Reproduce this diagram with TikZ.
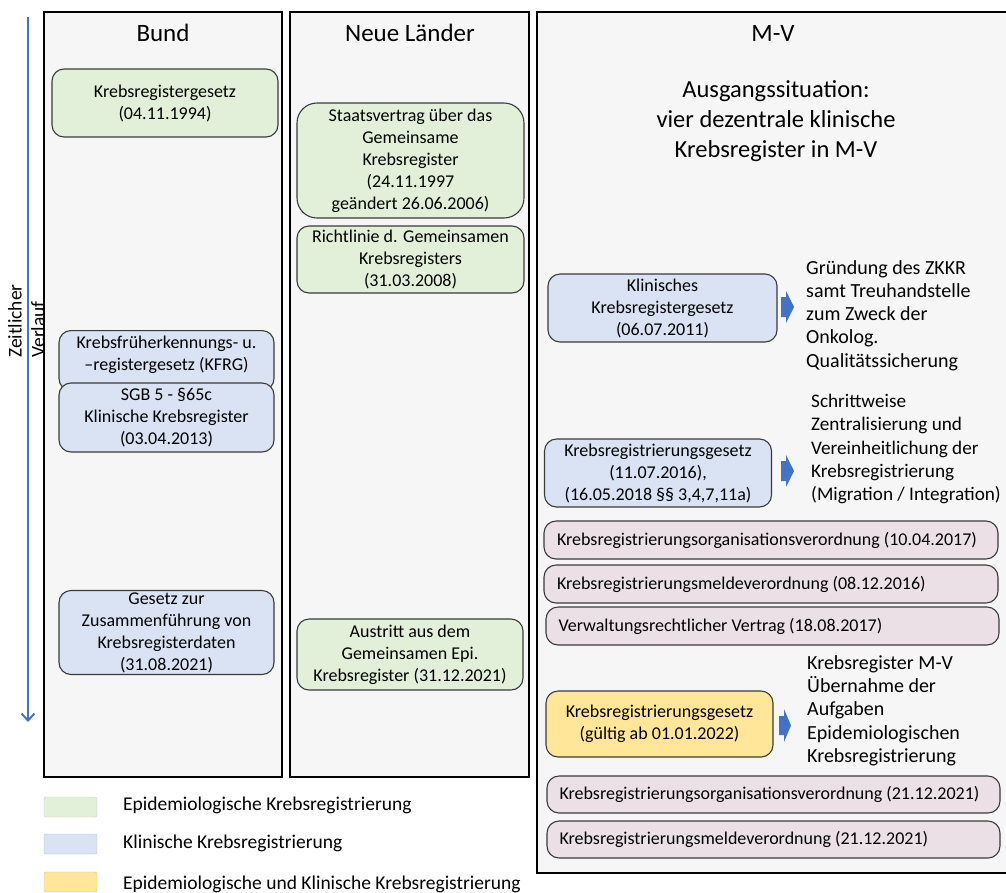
\documentclass[tikz,border=0pt]{standalone}
\usepackage{fontspec}
\setmainfont{Carlito}
\usetikzlibrary{arrows.meta}
\definecolor{panelfill}{HTML}{F6F6F6}
\definecolor{epigreen}{HTML}{E2F0D9}
\definecolor{klinblue}{HTML}{DAE3F3}
\definecolor{bothyellow}{HTML}{FFE699}
\definecolor{mvpink}{HTML}{EBE0E6}
\definecolor{boxline}{HTML}{3A3A3A}
\definecolor{timeblue}{HTML}{4472C4}
\tikzset{
  panel/.style={draw=black, line width=1.3pt, fill=panelfill},
  boxfont/.style={font=\fontsize{18}{22}\selectfont},
  lawbox/.style={draw=boxline, line width=1.1pt, rounded corners=12pt, align=center,
     inner sep=0pt, boxfont},
  epibox/.style={lawbox, fill=epigreen},
  klinbox/.style={lawbox, fill=klinblue},
  bothbox/.style={lawbox, fill=bothyellow},
  headtext/.style={font=\fontsize{25}{30}\selectfont, inner sep=0pt},
  notetext/.style={font=\fontsize{20}{23.3}\selectfont, align=left, inner sep=0pt, anchor=north west},
  blockarrow/.style={fill=timeblue, draw=none},
  swatch/.style={draw=#1!85!black, line width=0.4pt, fill=#1, rounded corners=2pt, minimum width=53pt, minimum height=20pt, inner sep=0pt},
  legtext/.style={font=\fontsize{19.5}{22}\selectfont, anchor=west, inner sep=0pt}
}
\begin{document}
\begin{tikzpicture}[x=1pt,y=-1pt]
\useasboundingbox (0,0) rectangle (1006,892);
\fill[white] (0,0) rectangle (1006,892);

% panels
\node[panel, minimum width=238pt, minimum height=765pt, inner sep=0pt] (pbund) at (163,394.5) {};
\node[panel, minimum width=239pt, minimum height=765pt, inner sep=0pt] (pnl) at (409.5,394.5) {};
\node[panel, minimum width=480pt, minimum height=861pt, inner sep=0pt] (pmv) at (777,442.5) {};

% headers
\node[headtext] (hbund) at (163,33) {Bund};
\node[headtext] (hnl) at (410,33) {Neue Länder};
\node[headtext] (hmv) at (773,33) {M-V};
\node[headtext, align=center, font=\fontsize{24.5}{30}\selectfont] (ausg) at (776,121) {Ausgangssituation:\\vier dezentrale klinische\\Krebsregister in M-V};

% timeline
\coordinate (tltop) at (28,17);
\coordinate (tlbot) at (28,722);
\draw[timeblue, line width=2.6pt, -{Straight Barb[length=7pt,width=13pt,line width=2pt]}] (tltop) -- (tlbot);
\node[rotate=90, align=left, anchor=north west, inner sep=0pt, font=\fontsize{19.5}{23}\selectfont] (zeit) at (8,358) {Zeitlicher\\Verlauf};

% Bund
\node[epibox, minimum width=226pt, minimum height=68pt] (krg) at (165,103) {Krebsregistergesetz\\(04.11.1994)};
\node[klinbox, minimum width=215pt, minimum height=60pt, anchor=north] (kfrg) at (166.5,330) {};
\node[boxfont, align=center, inner sep=0pt] (kfrgtext) at (166.5,355) {Krebsfrüherkennungs- u.\\–registergesetz (KFRG)};
\node[klinbox, minimum width=215pt, minimum height=69pt] (sgb) at (166.5,417.5) {SGB 5 - §65c\\Klinische Krebsregister\\(03.04.2013)};
\node[klinbox, minimum width=215pt, minimum height=84pt] (zus) at (166.5,632.5) {Gesetz zur\\Zusammenführung von\\Krebsregisterdaten\\(31.08.2021)};

% Neue Länder
\node[epibox, rounded corners=20pt, minimum width=227pt, minimum height=115pt] (stv) at (410.5,160.5) {Staatsvertrag über das\\Gemeinsame\\Krebsregister\\(24.11.1997\\geändert 26.06.2006)};
\node[epibox, minimum width=227pt, minimum height=67pt] (richt) at (410.5,259.5) {Richtlinie d. Gemeinsamen\\Krebsregisters\\(31.03.2008)};
\node[epibox, minimum width=226pt, minimum height=71pt] (austr) at (410,654.5) {Austritt aus dem\\Gemeinsamen Epi.\\Krebsregister (31.12.2021)};

% M-V
\node[klinbox, minimum width=229pt, minimum height=68pt] (kkrg) at (662.5,308) {Klinisches\\Krebsregistergesetz\\(06.07.2011)};
\fill[blockarrow] (781,297) -- (786,297) -- (786,291) -- (794,307) -- (786,323) -- (786,317) -- (781,317) -- cycle;
\node[notetext] (n1) at (806,260) {Gründung des ZKKR\\samt Treuhandstelle\\zum Zweck der\\Onkolog.\\Qualitätssicherung};

\node[klinbox, minimum width=227pt, minimum height=68pt] (krgz) at (658,473) {Krebsregistrierungsgesetz\\(11.07.2016),\\(16.05.2018 §§ 3,4,7,11a)};
\fill[blockarrow] (781,461) -- (786,461) -- (786,455) -- (794,471) -- (786,487) -- (786,481) -- (781,481) -- cycle;
\node[notetext, font=\fontsize{19.2}{23.3}\selectfont] (n2) at (811,394) {Schrittweise\\Zentralisierung und\\Vereinheitlichung der\\Krebsregistrierung\\(Migration / Integration)};

\node[lawbox, fill=mvpink, minimum width=454pt, minimum height=38pt] (kov1) at (771,540) {\makebox[428pt][l]{Krebsregistrierungsorganisationsverordnung (10.04.2017)}};
\node[lawbox, fill=mvpink, minimum width=454pt, minimum height=38pt] (kmv1) at (771,584) {\makebox[428pt][l]{Krebsregistrierungsmeldeverordnung (08.12.2016)}};
\node[lawbox, fill=mvpink, minimum width=453pt, minimum height=38pt] (vrv) at (772.5,626) {\makebox[428pt][l]{Verwaltungsrechtlicher Vertrag (18.08.2017)}};

\node[bothbox, minimum width=227pt, minimum height=66pt] (krgn) at (659.5,724) {Krebsregistrierungsgesetz\\(gültig ab 01.01.2022)};
\fill[blockarrow] (779,716) -- (784,716) -- (784,709) -- (791,725.5) -- (784,742) -- (784,735) -- (779,735) -- cycle;
\node[notetext] (n3) at (807,655) {Krebsregister M-V\\Übernahme der\\Aufgaben\\Epidemiologischen\\Krebsregistrierung};

\node[lawbox, fill=mvpink, minimum width=453pt, minimum height=37pt] (kov2) at (773.5,794.5) {\makebox[428pt][l]{Krebsregistrierungsorganisationsverordnung (21.12.2021)}};
\node[lawbox, fill=mvpink, minimum width=453pt, minimum height=37pt] (kmv2) at (773.5,839.5) {\makebox[428pt][l]{Krebsregistrierungsmeldeverordnung (21.12.2021)}};

% legend
\node[swatch=epigreen] (sw1) at (70.5,807) {};
\node[swatch=klinblue] (sw2) at (70.5,844) {};
\node[swatch=bothyellow] (sw3) at (70.5,882) {};
\node[legtext] (l1) at (123,805) {Epidemiologische Krebsregistrierung};
\node[legtext] (l2) at (123,843) {Klinische Krebsregistrierung};
\node[legtext] (l3) at (123,884) {Epidemiologische und Klinische Krebsregistrierung};
\end{tikzpicture}
\end{document}
